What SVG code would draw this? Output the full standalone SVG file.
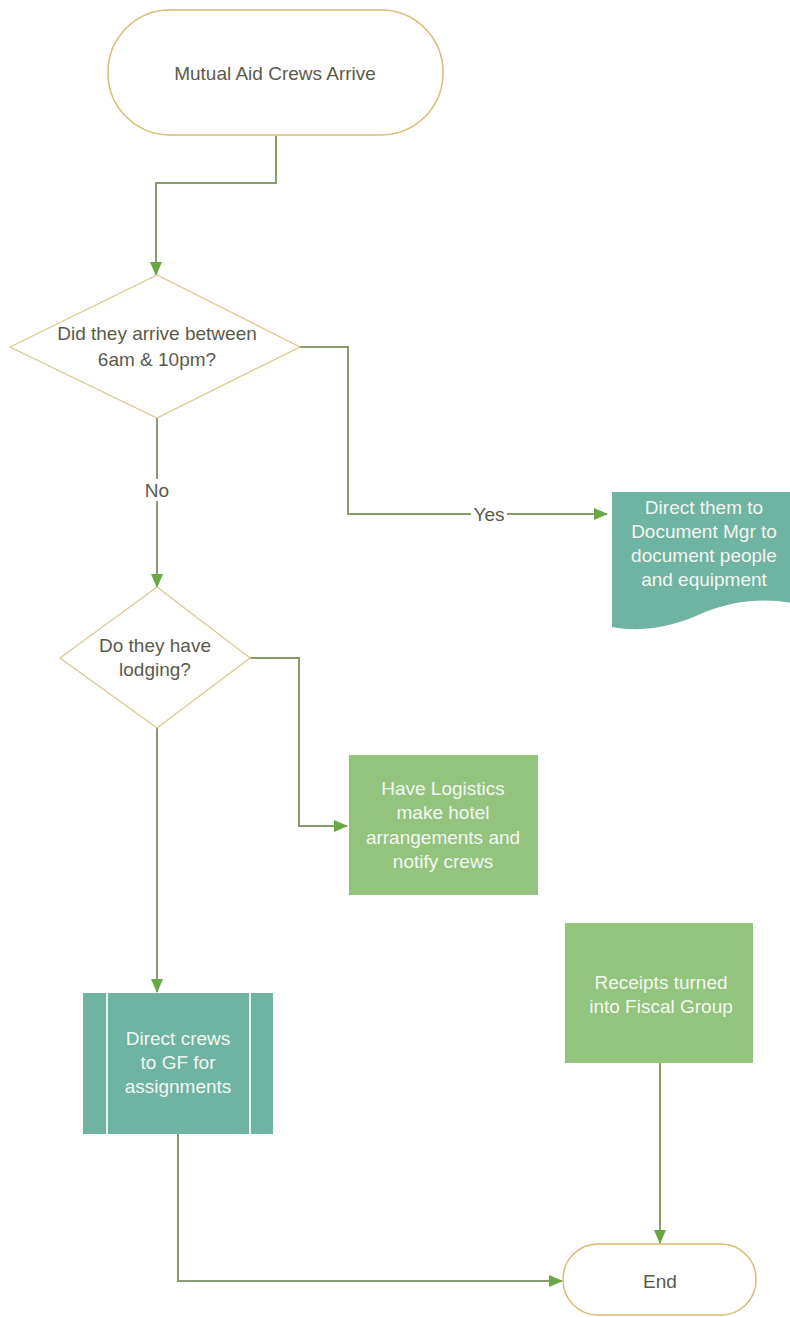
<svg xmlns="http://www.w3.org/2000/svg" width="790" height="1317" viewBox="0 0 790 1317">
  <defs>
    <marker id="arrow" markerWidth="14" markerHeight="14" refX="13" refY="7" orient="auto" markerUnits="userSpaceOnUse">
      <path d="M0,1 L14,7 L0,13 Z" fill="#6aa843"/>
    </marker>
    <style>
      .term { fill: #ffffff; stroke: #d6bd74; stroke-width: 1.5; }
      .dec { fill: #ffffff; stroke: #d9ca8e; stroke-width: 1.3; }
      .teal { fill: #6fb3a3; }
      .green { fill: #93c47d; }
      .conn { fill: none; stroke: #879b6c; stroke-width: 2; marker-end: url(#arrow); }
      .t { font-family: "Liberation Sans", Arial, sans-serif; font-size: 19px; text-anchor: middle; dominant-baseline: central; }
      .dark { fill: #5a5a4c; }
      .light { fill: #f2f8f0; }
      .lbl { font-family: "Liberation Sans", Arial, sans-serif; font-size: 19px; text-anchor: middle; dominant-baseline: central; fill: #5a5a4c; }
    </style>
  </defs>
  <rect width="790" height="1317" fill="#ffffff"/>

  <g id="connectors">
    <path class="conn" d="M276,136 V183 H156 V275"/>
    <path class="conn" d="M300,347 H348 V514 H607"/>
    <rect x="471" y="503" width="36" height="22" fill="#ffffff"/>
    <text class="lbl" x="489" y="514">Yes</text>
    <path class="conn" d="M157,418 V587"/>
    <rect x="143" y="479" width="29" height="22" fill="#ffffff"/>
    <text class="lbl" x="157" y="490">No</text>
    <path class="conn" d="M250,658 H299 V826 H347"/>
    <path class="conn" d="M157,728 V992"/>
    <path class="conn" d="M178,1134 V1281 H562"/>
    <path class="conn" d="M660,1063 V1243"/>
  </g>

  <g id="start">
    <rect class="term" x="108" y="10" width="335" height="125" rx="62" ry="62"/>
    <text class="t dark" x="275" y="73">Mutual Aid Crews Arrive</text>
  </g>

  <g id="decision-time">
    <polygon class="dec" points="10,347 157,275 300,347 157,418"/>
    <text class="t dark" x="157" y="333">Did they arrive between</text>
    <text class="t dark" x="157" y="359">6am &amp; 10pm?</text>
  </g>

  <g id="document-mgr">
    <path class="teal" d="M612,492 H792 V603 C765,598 735,600 705,612 C675,626 645,633 612,627 Z"/>
    <text class="t light" x="704" y="507">Direct them to</text>
    <text class="t light" x="704" y="531">Document Mgr to</text>
    <text class="t light" x="704" y="555">document people</text>
    <text class="t light" x="704" y="579">and equipment</text>
  </g>

  <g id="decision-lodging">
    <polygon class="dec" points="60,658 157,587 250,658 157,728"/>
    <text class="t dark" x="155" y="645">Do they have</text>
    <text class="t dark" x="155" y="669">lodging?</text>
  </g>

  <g id="logistics">
    <rect class="green" x="349" y="755" width="189" height="140"/>
    <text class="t light" x="443" y="788">Have Logistics</text>
    <text class="t light" x="443" y="812">make hotel</text>
    <text class="t light" x="443" y="837">arrangements and</text>
    <text class="t light" x="443" y="861">notify crews</text>
  </g>

  <g id="direct-crews">
    <rect class="teal" x="83" y="993" width="190" height="141"/>
    <line x1="107" y1="993" x2="107" y2="1134" stroke="#e8f3ee" stroke-width="2"/>
    <line x1="250" y1="993" x2="250" y2="1134" stroke="#e8f3ee" stroke-width="2"/>
    <text class="t light" x="178" y="1038">Direct crews</text>
    <text class="t light" x="178" y="1062">to GF for</text>
    <text class="t light" x="178" y="1086">assignments</text>
  </g>

  <g id="receipts">
    <rect class="green" x="565" y="923" width="188" height="140"/>
    <text class="t light" x="661" y="982">Receipts turned</text>
    <text class="t light" x="661" y="1006">into Fiscal Group</text>
  </g>

  <g id="end">
    <rect class="term" x="563" y="1244" width="193" height="71" rx="35" ry="35"/>
    <text class="t dark" x="660" y="1281">End</text>
  </g>
</svg>
